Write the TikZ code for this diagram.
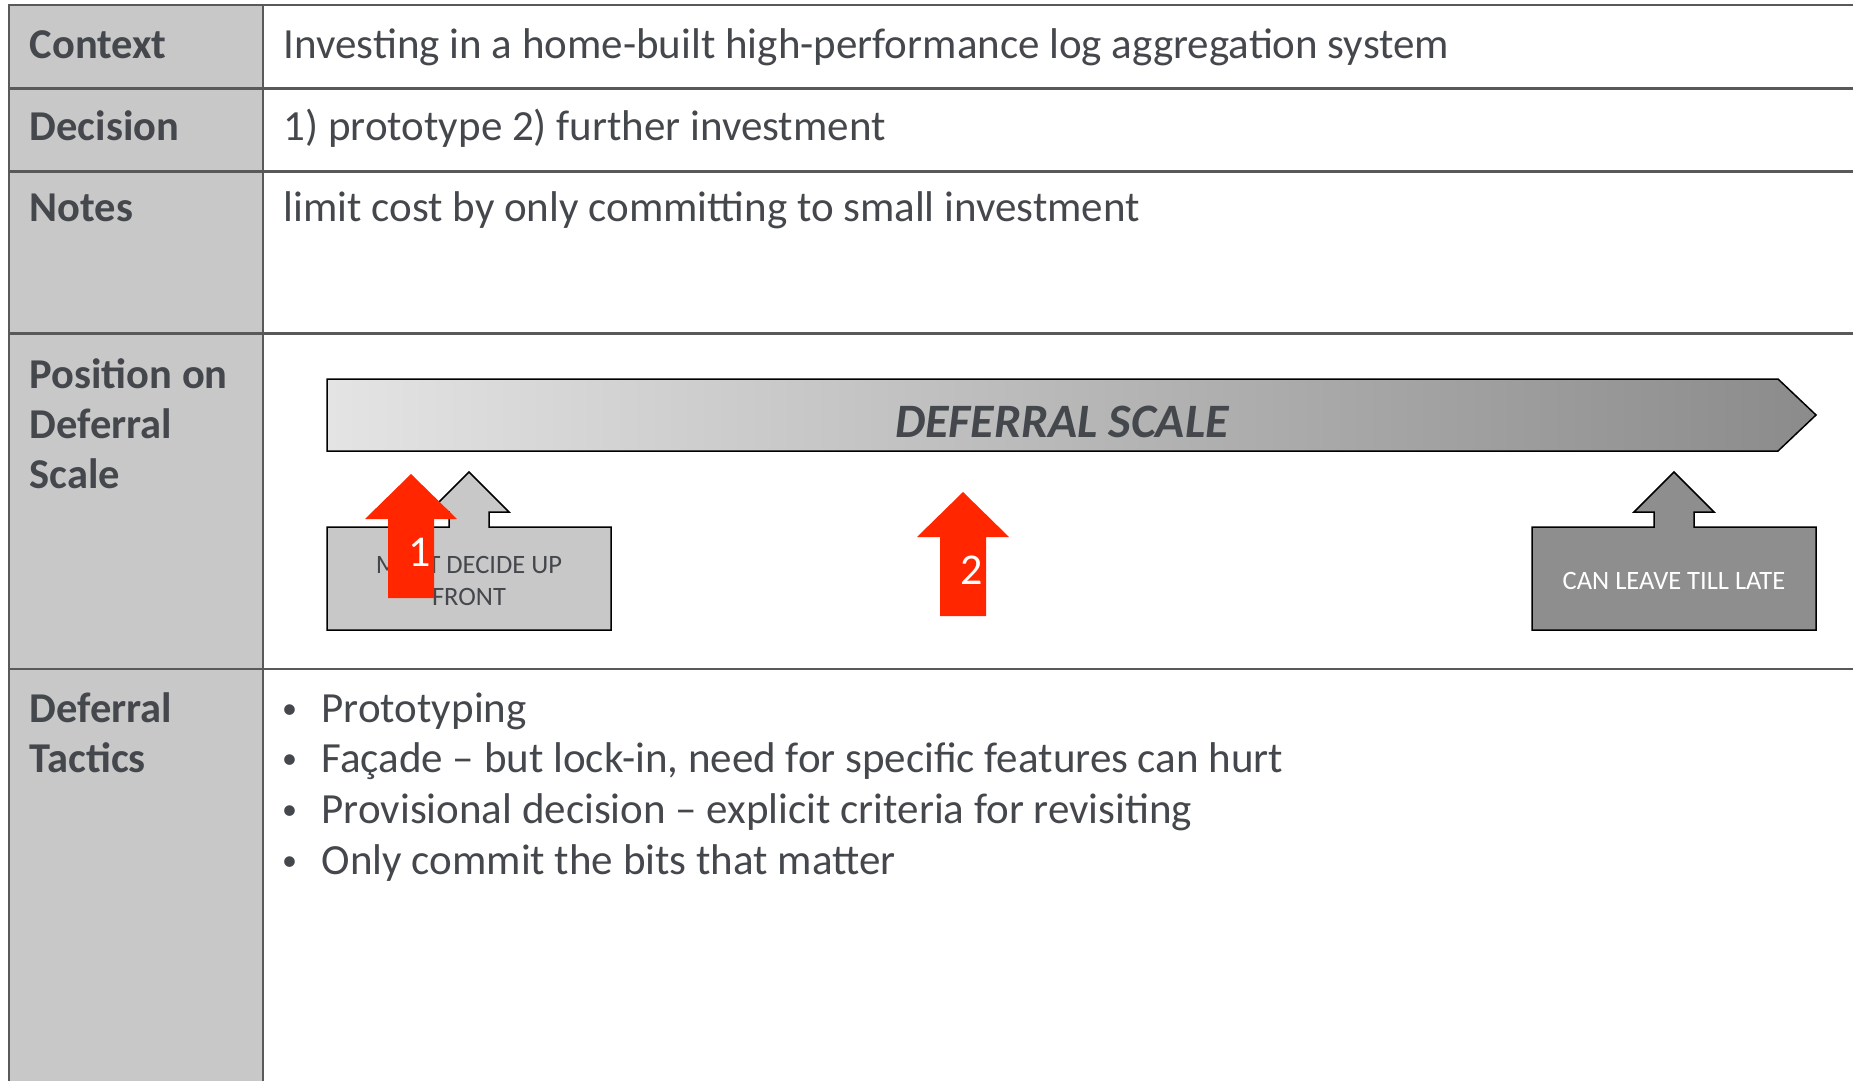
\documentclass[tikz,border=0pt]{standalone}
\usepackage{fontspec}
\setmainfont{Carlito}

\definecolor{txtgray}{HTML}{44474C}
\definecolor{rulegray}{HTML}{595959}
\definecolor{headfill}{HTML}{C8C8C8}
\definecolor{scalelight}{HTML}{E4E4E4}
\definecolor{scaledark}{HTML}{8B8B8B}
\definecolor{latefill}{HTML}{8E8E8E}
\definecolor{markred}{HTML}{FF2600}

\tikzset{
	head/.style={font=\fontsize{42.5}{50}\selectfont\bfseries,text=txtgray,anchor=base west,inner sep=0pt,align=left},
	cell/.style={font=\fontsize{43}{50.8}\selectfont,text=txtgray,anchor=base west,inner sep=0pt,align=left},
	boxtext/.style={font=\fontsize{26.5}{32.7}\selectfont,align=center,inner sep=0pt},
	marktext/.style={font=\fontsize{44}{44}\selectfont,text=white,inner sep=0pt},
	scaletext/.style={font=\fontsize{48}{48}\selectfont\bfseries\itshape,text=txtgray,inner sep=0pt},
	grid/.style={rulegray,line width=2.5pt}
}

\newcommand{\callout}[5]{
	\draw[line width=1.5pt,fill=#2] (#1-142,630) -- (#1-142,527) -- (#1-20,527) -- (#1-20,512) -- (#1-40,512) -- (#1,472) -- (#1+40,512) -- (#1+20,512) -- (#1+20,527) -- (#1+142,527) -- (#1+142,630) -- cycle;
	\node[boxtext,text=#3] (#4) at (#1,581) {#5};
}
\newcommand{\marker}[4]{
	\fill[markred] (#1,#2) -- (#1+46,#2+45) -- (#1+23,#2+45) -- (#1+23,#2+124) -- (#1-23,#2+124) -- (#1-23,#2+45) -- (#1-46,#2+45) -- cycle;
	\node[marktext] (#4) at (#1+9,#2+78) {#3};
}
\newcommand{\bulletmark}{\makebox[42.5pt][l]{\hspace{3pt}\raisebox{4pt}{\fontsize{30}{30}\selectfont •}}}

\begin{document}
\begin{tikzpicture}[x=1pt,y=-1pt]
	\useasboundingbox (0,0) rectangle (1853,1081);
	\fill[headfill] (9,5) rectangle (263,1081);
	\draw[grid] (1853,5) -- (9,5) -- (9,1081);
	\draw[grid] (263,5) -- (263,1081);
	\foreach \y in {88.3,171.7,333.3,669} \draw[grid] (9,\y) -- (1853,\y);

	\node[head] (context) at (29.5,58.3) {Context};
	\node[head] (decision) at (29.5,140) {Decision};
	\node[head] (notes) at (29.5,221.7) {Notes};
	\node[head] (position) at (29.5,488.8) {Position on\\Deferral\\Scale};
	\node[head] (tactics) at (29.5,772) {Deferral\\Tactics};

	\node[cell] (contextval) at (283.6,58.3) {Investing in a home-built high-performance log aggregation system};
	\node[cell] (decisionval) at (283.6,140) {1) prototype 2) further investment};
	\node[cell] (notesval) at (283.6,221.7) {limit cost by only committing to small investment};
	\node[cell] (tacticsval) at (279,874.4) {\bulletmark Prototyping\\\bulletmark Façade – but lock-in, need for specific features can hurt\\\bulletmark Provisional decision – explicit criteria for revisiting\\\bulletmark Only commit the bits that matter};

	\path[draw=black,line width=1.5pt,left color=scalelight,right color=scaledark] (327,379) -- (1778,379) -- (1816,415) -- (1778,451) -- (327,451) -- cycle;
	\node[scaletext] (scale) at (1062,422) {DEFERRAL SCALE};

	\callout{469}{headfill}{txtgray}{early}{MUST DECIDE UP\\FRONT}
	\callout{1674}{latefill}{white}{late}{CAN LEAVE TILL LATE}
	\marker{411}{474}{1}{first}
	\marker{963}{492}{2}{second}
\end{tikzpicture}
\end{document}
